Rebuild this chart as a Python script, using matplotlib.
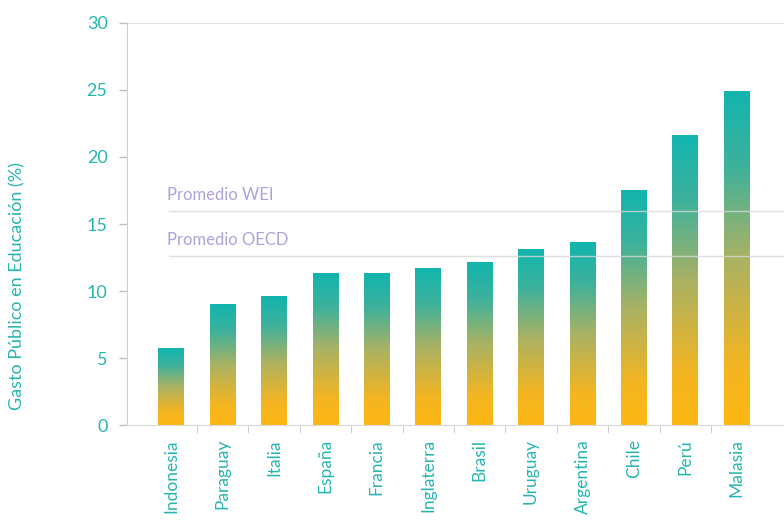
import numpy as np
import matplotlib
matplotlib.use("Agg")
import matplotlib.pyplot as plt
from matplotlib.colors import LinearSegmentedColormap

countries = ["Indonesia", "Paraguay", "Italia", "España", "Francia", "Inglaterra",
             "Brasil", "Uruguay", "Argentina", "Chile", "Perú", "Malasia"]
gasto = [5.7, 9.0, 9.6, 11.3, 11.3, 11.7, 12.1, 13.1, 13.6, 17.5, 21.6, 24.9]

promedio_wei = 16.0
promedio_oecd = 12.6

TEAL = "#27b5b0"
plt.rcParams["font.family"] = ["Lato", "DejaVu Sans"]

# bottom -> top: orange, olive green, teal
grad = LinearSegmentedColormap.from_list(
    "gasto", [(0.0, "#fdb813"), (0.18, "#f3b522"), (0.5, "#a9b264"),
              (0.78, "#3cb19c"), (1.0, "#12b5ae")])

fig = plt.figure(figsize=(7.84, 5.21), dpi=100)
ax = fig.add_axes([0.162, 0.184, 0.838, 0.772])

width = 0.5
ramp = np.linspace(0, 1, 256).reshape(-1, 1)
for i, v in enumerate(gasto):
    ax.imshow(ramp, cmap=grad, origin="lower", aspect="auto",
              extent=(i - width / 2, i + width / 2, 0, v), zorder=2)

ax.set_xlim(-0.86, 11.92)
ax.set_ylim(0, 30)

# reference lines and their labels
for val, name in [(promedio_wei, "Promedio WEI"), (promedio_oecd, "Promedio OECD")]:
    ax.plot([-0.05, 11.92], [val, val], color="#d8d8d8", lw=1, zorder=3, alpha=0.8)
    ax.text(-0.08, val + 0.6, name, color="#aaa4da", fontsize=12,
            ha="left", va="bottom", zorder=4)

ax.axhline(30, color="#dedede", lw=1.2, zorder=1)

for s in ["top", "right"]:
    ax.spines[s].set_visible(False)
ax.spines["left"].set_color("#d0d0d0")
ax.spines["left"].set_linestyle((0, (1, 1)))
ax.spines["bottom"].set_color("#d8d8d8")

ax.set_yticks([0, 5, 10, 15, 20, 25, 30])
ax.tick_params(axis="y", colors="#bdbdbd", labelcolor=TEAL, labelsize=13,
               length=6, width=1, pad=8)

ax.set_xticks(range(len(countries)))
ax.set_xticklabels(countries, rotation=90, color=TEAL, fontsize=12.5)
ax.tick_params(axis="x", length=0, pad=10)
ax.set_xticks(np.arange(len(countries) - 1) + 0.5, minor=True)
ax.tick_params(axis="x", which="minor", length=6, color="#c8c8c8")

fig.text(0.022, 0.45, "Gasto Público en Educación (%)", rotation=90, color=TEAL,
         fontsize=13, ha="center", va="center")

fig.savefig("out.png", dpi=100)
